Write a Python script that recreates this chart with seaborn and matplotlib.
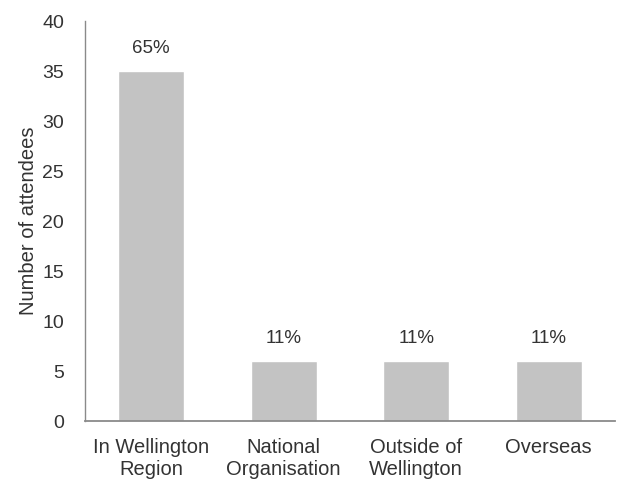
import matplotlib
matplotlib.use("Agg")
import matplotlib.pyplot as plt
import seaborn as sns
import pandas as pd

# data
categories = ["In Wellington\nRegion", "National\nOrganisation", "Outside of\nWellington", "Overseas"]
attendees = [35, 6, 6, 6]
pct_labels = ["65%", "11%", "11%", "11%"]

df = pd.DataFrame({"origin": categories, "count": attendees})

sns.set_style("white")
plt.rcParams["font.family"] = ["Liberation Sans", "DejaVu Sans"]

fig = plt.figure(figsize=(6.18, 4.84), dpi=100)
ax = fig.add_axes([0.1375, 0.130, 0.8575, 0.8266])

sns.barplot(data=df, x="origin", y="count", color="#c3c3c3", saturation=1,
            width=0.5, ax=ax)

for i, (v, lab) in enumerate(zip(attendees, pct_labels)):
    ax.annotate(lab, (i, v), xytext=(0, 10), textcoords="offset points",
                ha="center", va="bottom", fontsize=13.5, color="#333333")

ax.set_ylim(0, 40)
ax.set_yticks(range(0, 41, 5))
ax.set_xlim(-0.5, 3.5)
ax.set_xlabel("")
ax.set_ylabel("Number of attendees", fontsize=14.5, color="#333333", labelpad=3)
ax.tick_params(axis="y", length=0, labelsize=14, colors="#333333", pad=15)
ax.tick_params(axis="x", length=0, labelsize=14.5, colors="#333333", pad=12)
for lab in ax.get_xticklabels():
    lab.set_linespacing(1.2)

for s in ["top", "right"]:
    ax.spines[s].set_visible(False)
ax.spines["left"].set_color("#8a8a8a")
ax.spines["bottom"].set_color("#8a8a8a")
ax.spines["left"].set_linewidth(1.0)
ax.spines["bottom"].set_linewidth(1.3)

fig.savefig("out.png", dpi=100)
